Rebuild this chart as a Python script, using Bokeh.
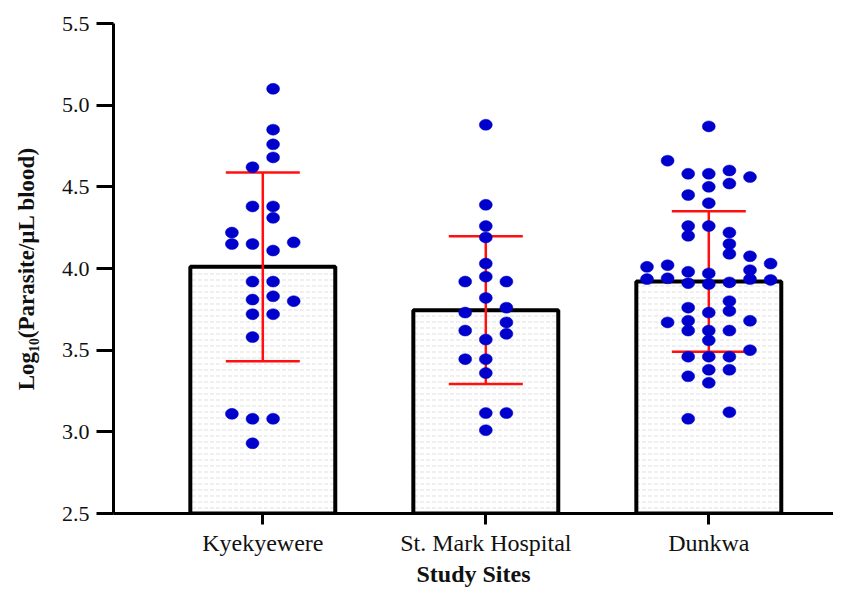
import numpy as np
from bokeh.plotting import figure
from bokeh.models import Range1d, FixedTicker, PrintfTickFormatter
from bokeh.embed import file_html
from bokeh.resources import INLINE

# ---------------- data ----------------
sites = ["Kyekyewere", "St. Mark Hospital", "Dunkwa"]
means = [4.01, 3.745, 3.92]
sds = [0.578, 0.452, 0.43]
y_ticks = [2.5, 3.0, 3.5, 4.0, 4.5, 5.0, 5.5]

kye_vals = [5.10, 4.85, 4.76, 4.68, 4.62, 4.38, 4.38, 4.31, 4.22, 4.15, 4.15, 4.16, 4.11,
            3.92, 3.92, 3.81, 3.83, 3.80, 3.72, 3.72, 3.58, 3.11, 3.08, 3.08, 2.93]
kye_slot = [0.5, 0.5, 0.5, 0.5, -0.5, -0.5, 0.5, 0.5, -1.5, -1.5, -0.5, 1.5, 0.5,
            -0.5, 0.5, -0.5, 0.5, 1.5, -0.5, 0.5, -0.5, -1.5, -0.5, 0.5, -0.5]

stm_vals = [4.88, 4.39, 4.26, 4.19, 4.03, 3.95, 3.92, 3.92, 3.82, 3.76, 3.73, 3.67, 3.62,
            3.60, 3.565, 3.445, 3.445, 3.36, 3.115, 3.115, 3.01]
stm_slot = [0, 0, 0, 0, 0, 0, -1, 1, 0, 1, -1, 1, -1,
            1, 0, -1, 0, 0, 0, 1, 0]

dun_vals = [4.87, 4.66, 4.58, 4.58, 4.60, 4.56, 4.50, 4.52, 4.45, 4.40, 4.26, 4.26, 4.20,
            4.22, 4.15, 4.09, 4.075, 4.01, 4.02, 4.03, 3.98, 3.97, 3.99, 3.935, 3.94, 3.91,
            3.905, 3.915, 3.935, 3.93, 3.80, 3.76, 3.74, 3.73, 3.67, 3.68, 3.68, 3.62, 3.62,
            3.62, 3.56, 3.50, 3.46, 3.46, 3.46, 3.38, 3.38, 3.34, 3.30, 3.12, 3.08]
dun_slot = [0, -2, -1, 0, 1, 2, 0, 1, -1, 0, -1, 0, -1,
            1, 1, 1, 2, -3, -2, 3, -1, 0, 2, -3, -2, -1,
            0, 1, 2, 3, 1, -1, 1, 0, -2, -1, 2, -1, 0,
            1, 0, 2, -1, 0, 1, 0, 1, -1, 0, 1, -1]

# ---------------- layout ----------------
W, H = 833, 589
LEFT, TOP, BOTTOM, RIGHT = 113, 23, 75, 0
PXU_X = 223.0
X0 = -149.3 / PXU_X
X1 = X0 + (W - LEFT - RIGHT) / PXU_X
Y0, Y1 = 2.5, 5.5
SLOT = 20.6 / PXU_X          # spacing of dot columns
CAP = 37.0 / PXU_X           # half width of error bar caps
BAR_W = 0.65

FONT = "Liberation Serif"

p = figure(width=W, height=H, x_range=Range1d(X0, X1), y_range=Range1d(Y0, Y1),
           output_backend="svg", toolbar_location=None,
           min_border_left=LEFT, min_border_right=RIGHT,
           min_border_top=TOP, min_border_bottom=BOTTOM)
p.outline_line_color = None
p.grid.visible = False
p.background_fill_color = "white"
p.border_fill_color = "white"

xs = list(range(len(sites)))
p.vbar(x=xs, top=means, bottom=Y0, width=BAR_W, fill_color="white",
       line_color="black", line_width=4,
       hatch_pattern="horizontal_dash", hatch_color="#d2d2d2",
       hatch_scale=6, hatch_weight=0.7)

lo = [m - s for m, s in zip(means, sds)]
hi = [m + s for m, s in zip(means, sds)]
RED = "#ff0f0f"
p.segment(x0=xs, y0=lo, x1=xs, y1=hi, line_color=RED, line_width=2.5)
p.segment(x0=[x - CAP for x in xs], y0=hi, x1=[x + CAP for x in xs], y1=hi,
          line_color=RED, line_width=2.5)
p.segment(x0=[x - CAP for x in xs], y0=lo, x1=[x + CAP for x in xs], y1=lo,
          line_color=RED, line_width=2.5)

for i, (vals, slots) in enumerate([(kye_vals, kye_slot), (stm_vals, stm_slot), (dun_vals, dun_slot)]):
    px = [i + s * SLOT for s in slots]
    p.ellipse(x=px, y=vals, width=13, height=11, width_units="screen", height_units="screen",
              fill_color="#0000cc", line_color="#0000cc", line_width=0.5)

# axes
p.xaxis.ticker = FixedTicker(ticks=xs)
p.xaxis.major_label_overrides = {i: s for i, s in enumerate(sites)}
p.yaxis.ticker = FixedTicker(ticks=y_ticks)
p.yaxis.formatter = PrintfTickFormatter(format="%.1f")
for ax in (p.xaxis, p.yaxis):
    ax.axis_line_width = 3
    ax.axis_line_color = "black"
    ax.major_tick_line_width = 3
    ax.major_tick_line_color = "black"
    ax.major_tick_in = 0
    ax.minor_tick_line_color = None
    ax.major_label_text_font = FONT
    ax.major_label_text_color = "#111111"
    ax.axis_label_text_font = FONT
    ax.axis_label_text_font_style = "bold"
    ax.axis_label_text_color = "#111111"
p.xaxis.major_label_text_font_size = "24px"
p.yaxis.major_label_text_font_size = "22px"
p.xaxis.major_tick_out = 11
p.yaxis.major_tick_out = 17
p.xaxis.major_label_standoff = 5
p.yaxis.major_label_standoff = 7

p.xaxis.axis_label = "Study Sites"
p.xaxis.axis_label_text_font_size = "24px"
p.xaxis.axis_label_standoff = 2
p.yaxis.axis_label = "Log\u2081\u2080(Parasite/µL blood)"
p.yaxis.axis_label_text_font_size = "23px"
p.yaxis.axis_label_standoff = 20

open("out.html", "w").write(file_html(p, INLINE))
